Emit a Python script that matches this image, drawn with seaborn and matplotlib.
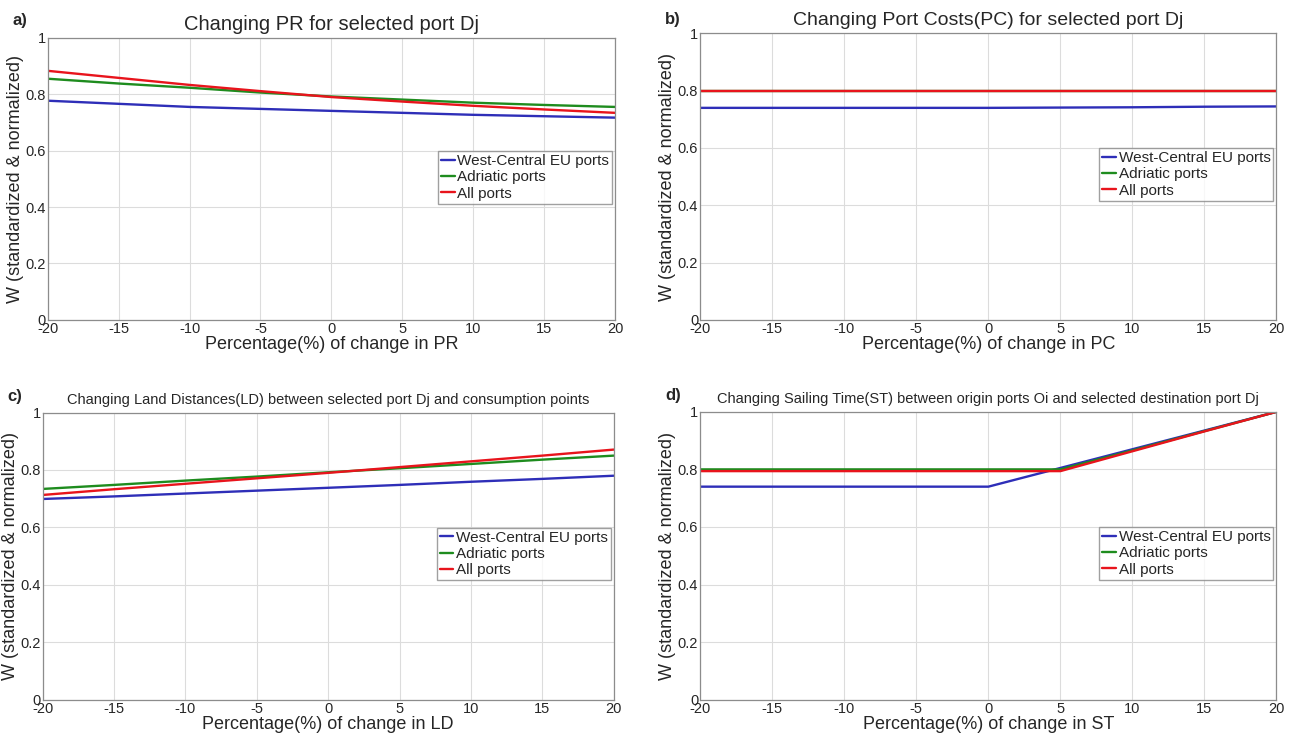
import numpy as np
import pandas as pd
import matplotlib
matplotlib.use("Agg")
import matplotlib.pyplot as plt
import seaborn as sns

sns.set_style("white")
plt.rcParams['font.family'] = ['Liberation Sans', 'DejaVu Sans']
plt.rcParams['axes.unicode_minus'] = False

pct = [-20, -15, -10, -5, 0, 5, 10, 15, 20]
series_names = ['West-Central EU ports', 'Adriatic ports', 'All ports']
colors = ['#2e2eb8', '#1e8c1e', '#e8141c']

# a) PR
pr_west = [0.777, 0.766, 0.755, 0.748, 0.741, 0.734, 0.727, 0.722, 0.717]
pr_adri = [0.855, 0.838, 0.823, 0.806, 0.792, 0.781, 0.770, 0.762, 0.755]
pr_all = [0.883, 0.858, 0.833, 0.811, 0.790, 0.774, 0.759, 0.746, 0.734]

# b) PC
pc_west = [0.740, 0.740, 0.740, 0.740, 0.740, 0.741, 0.742, 0.744, 0.745]
pc_adri = [0.800, 0.800, 0.800, 0.800, 0.800, 0.800, 0.800, 0.800, 0.800]
pc_all = [0.799, 0.799, 0.799, 0.799, 0.799, 0.799, 0.799, 0.799, 0.799]

# c) LD
ld_west = [0.699, 0.708, 0.718, 0.728, 0.738, 0.748, 0.759, 0.769, 0.780]
ld_adri = [0.734, 0.748, 0.763, 0.777, 0.792, 0.806, 0.821, 0.836, 0.850]
ld_all = [0.713, 0.733, 0.752, 0.771, 0.790, 0.810, 0.830, 0.850, 0.871]

# d) ST
st_west = [0.740, 0.740, 0.740, 0.740, 0.740, 0.805, 0.870, 0.935, 1.000]
st_adri = [0.800, 0.800, 0.800, 0.800, 0.800, 0.800, 0.866, 0.933, 1.000]
st_all = [0.794, 0.794, 0.794, 0.794, 0.794, 0.794, 0.863, 0.932, 1.000]

# tag, title, variable, data, axes rect, title size, tag y
panels = [
    ('a)', 'Changing PR for selected port Dj', 'PR', [pr_west, pr_adri, pr_all],
     [0.037, 0.569, 0.439, 0.380], 14.5, 0.972),
    ('b)', 'Changing Port Costs(PC) for selected port Dj', 'PC', [pc_west, pc_adri, pc_all],
     [0.542, 0.569, 0.446, 0.386], 14, 0.974),
    ('c)', 'Changing Land Distances(LD) between selected port Dj and consumption points', 'LD',
     [ld_west, ld_adri, ld_all], [0.033, 0.057, 0.442, 0.387], 10.5, 0.465),
    ('d)', 'Changing Sailing Time(ST) between origin ports Oi and selected destination port Dj', 'ST',
     [st_west, st_adri, st_all], [0.542, 0.057, 0.446, 0.388], 10.5, 0.467),
]

fig = plt.figure(figsize=(12.92, 7.42), dpi=100)

for tag, title, var, vals, rect, tsize, tagy in panels:
    ax = fig.add_axes(rect)
    df = pd.DataFrame({
        'x': pct * 3,
        'w': [v for s in vals for v in s],
        'series': [n for n in series_names for _ in pct],
    })
    sns.lineplot(data=df, x='x', y='w', hue='series', palette=colors,
                 hue_order=series_names, linewidth=1.7, ax=ax)
    ax.set_xlim(-20, 20)
    ax.set_ylim(0, 1)
    ax.set_xticks(np.arange(-20, 21, 5))
    ax.set_yticks([0, 0.2, 0.4, 0.6, 0.8, 1])
    ax.set_yticklabels(['0', '0.2', '0.4', '0.6', '0.8', '1'])
    ax.grid(True, color='#dcdcdc', linewidth=0.8)
    ax.tick_params(direction='in', labelsize=10.5, length=3, pad=1.5)
    for sp in ax.spines.values():
        sp.set_color('#8c8c8c')
        sp.set_linewidth(0.9)
    ax.set_xlabel('Percentage(%) of change in ' + var, fontsize=13, labelpad=0)
    ax.set_ylabel('W (standardized & normalized)', fontsize=13, labelpad=1)
    ax.set_title(title, fontsize=tsize, pad=6)
    leg = ax.legend(loc='upper right', bbox_to_anchor=(1.0, 0.61), fontsize=11,
                    handlelength=0.9, handletextpad=0.15, borderpad=0.2,
                    labelspacing=0.15, frameon=True, fancybox=False,
                    borderaxespad=0.2)
    leg.get_frame().set_edgecolor('#888888')
    leg.get_frame().set_linewidth(1.0)
    fig.text(rect[0] - 0.027, tagy, tag, fontsize=12,
             fontweight='bold', va='center')

fig.savefig('out.png', dpi=100)
